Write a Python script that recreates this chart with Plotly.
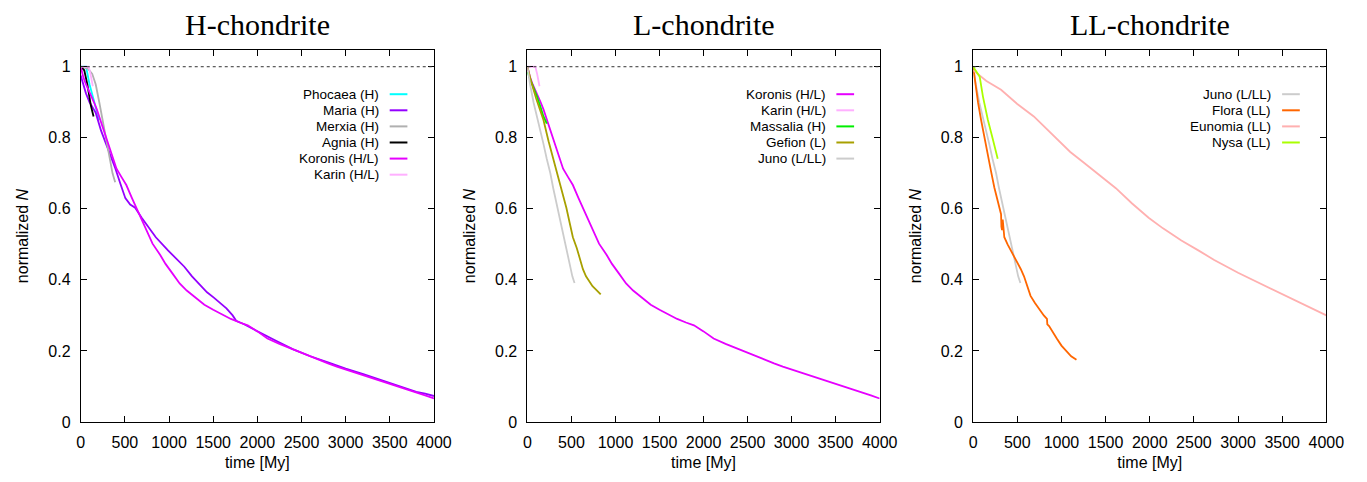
import plotly.graph_objects as go

# ---------------- data (time in My, normalized N) ----------------
koronis_t = [0, 30, 60, 108, 150, 182, 230, 293, 340, 405, 460, 516, 580, 665, 740, 813, 900, 960, 1036, 1120,
             1200, 1296, 1400, 1500, 1593, 1700, 1800, 1891, 2000, 2114, 2250, 2400, 2500, 2650, 2800, 2900,
             3000, 3150, 3300, 3400, 3500, 3650, 3800, 3900, 4000]
koronis_n = [1.0, 0.97, 0.95, 0.925, 0.90, 0.88, 0.845, 0.796, 0.765, 0.713, 0.69, 0.667, 0.63, 0.585, 0.545,
             0.502, 0.47, 0.445, 0.419, 0.39, 0.37, 0.35, 0.33, 0.316, 0.303, 0.29, 0.28, 0.272, 0.255, 0.235,
             0.22, 0.205, 0.193, 0.178, 0.165, 0.156, 0.148, 0.137, 0.125, 0.115, 0.107, 0.095, 0.083, 0.075, 0.066]

maria_t = [0, 30, 59, 100, 170, 230, 282, 340, 393, 450, 505, 560, 616, 690, 765, 850, 988, 1080, 1173, 1260,
           1359, 1430, 1507, 1580, 1650, 1720, 1760, 1850, 2000, 2200, 2400, 2600, 2800, 3000, 3200, 3400,
           3600, 3700, 3800, 3900, 4000]
maria_n = [0.975, 0.95, 0.925, 0.90, 0.87, 0.82, 0.787, 0.75, 0.713, 0.67, 0.63, 0.612, 0.603, 0.575, 0.548,
           0.52, 0.483, 0.46, 0.437, 0.41, 0.382, 0.365, 0.35, 0.335, 0.32, 0.30, 0.285, 0.275, 0.255, 0.23,
           0.205, 0.185, 0.168, 0.15, 0.135, 0.118, 0.100, 0.092, 0.085, 0.08, 0.073]

phocaea_t = [0, 60, 100, 150, 208]
phocaea_n = [1.0, 1.0, 0.95, 0.90, 0.85]

merxia_t = [0, 80, 130, 170, 210, 245, 290, 330, 360, 390]
merxia_n = [1.0, 0.995, 0.98, 0.95, 0.90, 0.85, 0.79, 0.74, 0.70, 0.675]

agnia_t = [0, 40, 75, 115, 145]
agnia_n = [1.0, 0.99, 0.95, 0.89, 0.86]

karin_t = [0, 90, 110, 137]
karin_n = [1.0, 1.0, 0.98, 0.945]

massalia_t = [0, 40, 108, 150, 182, 220]
massalia_n = [0.985, 0.96, 0.916, 0.885, 0.86, 0.84]

gefion_t = [0, 40, 100, 182, 240, 293, 330, 368, 400, 442, 480, 516, 560, 591, 630, 665, 700, 739, 790, 832]
gefion_n = [1.0, 0.96, 0.91, 0.85, 0.79, 0.74, 0.71, 0.667, 0.64, 0.603, 0.56, 0.52, 0.49, 0.465, 0.43,
            0.41, 0.395, 0.382, 0.37, 0.359]

juno_t = [0, 30, 71, 110, 145, 180, 219, 260, 293, 330, 368, 400, 423, 450, 479, 510, 535]
juno_n = [1.0, 0.95, 0.898, 0.86, 0.824, 0.785, 0.741, 0.70, 0.658, 0.615, 0.575, 0.535, 0.502, 0.47,
          0.437, 0.41, 0.391]

flora_t = [0, 20, 56, 90, 130, 170, 204, 240, 279, 316, 320, 327, 335, 353, 390, 427, 460, 501, 540, 576,
           610, 650, 700, 761, 800, 836, 840, 860, 900, 947, 1000, 1058, 1110, 1170]
flora_n = [1.0, 0.96, 0.898, 0.85, 0.796, 0.75, 0.704, 0.66, 0.62, 0.585, 0.55, 0.54, 0.57, 0.52, 0.50,
           0.483, 0.465, 0.447, 0.43, 0.41, 0.385, 0.355, 0.335, 0.313, 0.30, 0.29, 0.275, 0.27, 0.253,
           0.235, 0.215, 0.198, 0.185, 0.175]

nysa_t = [0, 30, 74, 111, 167, 223, 278]
nysa_n = [1.0, 0.99, 0.972, 0.916, 0.85, 0.796, 0.741]

eunomia_t = [0, 150, 316, 500, 687, 850, 984, 1100, 1244, 1400, 1616, 1800, 1987, 2150, 2358, 2550, 2730,
             3000, 3250, 3500, 3750, 4000]
eunomia_n = [0.99, 0.96, 0.935, 0.895, 0.86, 0.82, 0.787, 0.76, 0.732, 0.70, 0.658, 0.615, 0.575, 0.545,
             0.511, 0.483, 0.456, 0.42, 0.39, 0.36, 0.33, 0.30]

panel_titles = ["H-chondrite", "L-chondrite", "LL-chondrite"]
x_ticks = [0, 500, 1000, 1500, 2000, 2500, 3000, 3500, 4000]
y_ticks = [0, 0.2, 0.4, 0.6, 0.8, 1]

C = {
    "Phocaea (H)": "#00ffff",
    "Maria (H)": "#9400ff",
    "Merxia (H)": "#b0b0b0",
    "Agnia (H)": "#000000",
    "Koronis (H/L)": "#e600ff",
    "Karin (H/L)": "#ffb0ff",
    "Massalia (H)": "#00ee00",
    "Gefion (L)": "#a8a000",
    "Juno (L/LL)": "#cccccc",
    "Flora (LL)": "#ff6600",
    "Eunomia (LL)": "#ffb0b0",
    "Nysa (LL)": "#aaff00",
}

panels = [
    [("Phocaea (H)", phocaea_t, phocaea_n), ("Maria (H)", maria_t, maria_n), ("Merxia (H)", merxia_t, merxia_n),
     ("Agnia (H)", agnia_t, agnia_n), ("Koronis (H/L)", koronis_t, koronis_n), ("Karin (H/L)", karin_t, karin_n)],
    [("Koronis (H/L)", koronis_t, koronis_n), ("Karin (H/L)", karin_t, karin_n),
     ("Massalia (H)", massalia_t, massalia_n), ("Gefion (L)", gefion_t, gefion_n), ("Juno (L/LL)", juno_t, juno_n)],
    [("Juno (L/LL)", juno_t, juno_n), ("Flora (LL)", flora_t, flora_n), ("Eunomia (LL)", eunomia_t, eunomia_n),
     ("Nysa (LL)", nysa_t, nysa_n)],
]

# ---------------- layout geometry ----------------
W, H = 1367, 482
px_left = [78, 532, 985]
px_right = [437, 890, 1344]
py_top, py_bottom = 51, 430
y_per_unit = 362.0
legend_text_right = [383, 837, 1290]
legend_row0 = 96
legend_dy = 16.4

fig = go.Figure()
FONT = "Liberation Sans, Arial, Helvetica, sans-serif"

for i, series in enumerate(panels):
    sfx = "" if i == 0 else str(i + 1)
    for name, t, n in series:
        fig.add_trace(go.Scatter(x=t, y=n, mode="lines", name=name, showlegend=False,
                                 line=dict(color=C[name], width=1.8),
                                 xaxis="x" + sfx, yaxis="y" + sfx))
    fig.add_shape(type="line", xref="x" + sfx, yref="y" + sfx, x0=0, x1=4000, y0=1, y1=1,
                  line=dict(color="#333333", width=1, dash="dot"))
    common = dict(showline=True, linecolor="black", linewidth=1, mirror="ticks", ticks="inside",
                  ticklen=6, tickcolor="black", showgrid=False, zeroline=False,
                  tickfont=dict(family=FONT, size=16, color="black"))
    fig.update_layout(**{
        "xaxis" + sfx: dict(domain=[px_left[i] / W, px_right[i] / W], range=[0, 4000], tickvals=x_ticks,
                            anchor="y" + sfx, ticklabelstandoff=6,
                            title=dict(text="time [My]", font=dict(family=FONT, size=16, color="black"),
                                       standoff=6), **common),
        "yaxis" + sfx: dict(domain=[1 - py_bottom / H, 1 - py_top / H],
                            range=[0, (py_bottom - py_top) / y_per_unit],
                            tickvals=y_ticks, anchor="x" + sfx, ticklabelstandoff=6,
                            title=dict(text="normalized <i>N</i>", font=dict(family=FONT, size=16, color="black"),
                                       standoff=15), **common),
    })
    fig.add_annotation(text=panel_titles[i], xref="paper", yref="paper",
                       x=(px_left[i] + px_right[i]) / 2 / W, y=1 - 25 / H, showarrow=False,
                       xanchor="center", yanchor="middle",
                       font=dict(family="Liberation Serif, Times New Roman, serif", size=30, color="black"))
    for k, (name, t, n) in enumerate(series):
        py = legend_row0 + k * legend_dy
        fig.add_annotation(text=name, xref="paper", yref="paper", x=legend_text_right[i] / W, y=1 - py / H,
                           showarrow=False, xanchor="right", yanchor="middle",
                           font=dict(family=FONT, size=13.5, color="black"))
        fig.add_shape(type="line", xref="paper", yref="paper",
                      x0=(legend_text_right[i] + 9) / W, x1=(legend_text_right[i] + 27) / W,
                      y0=1 - py / H, y1=1 - py / H, line=dict(color=C[name], width=2))

fig.update_layout(width=W, height=H, margin=dict(l=0, r=0, t=0, b=0), plot_bgcolor="white",
                  paper_bgcolor="white", showlegend=False)

fig.write_html("out.html")
